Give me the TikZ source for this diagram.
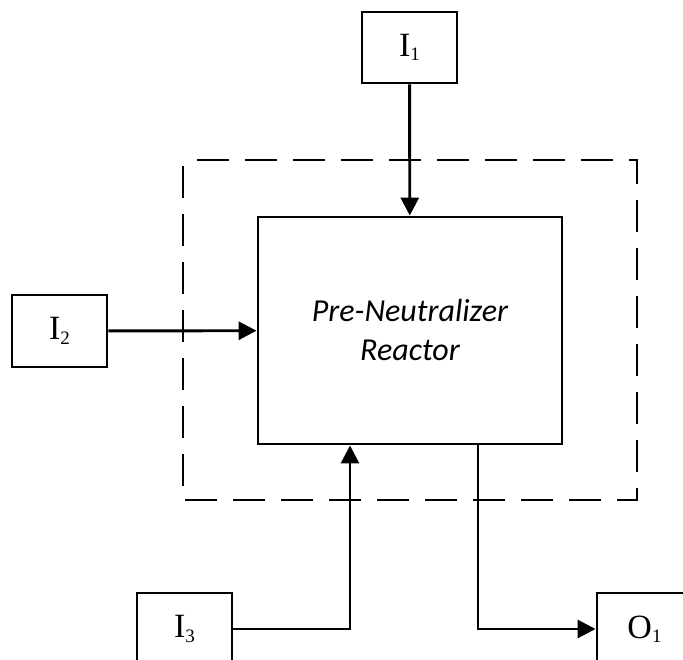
\documentclass[tikz,border=0pt]{standalone}
\usepackage{fontspec}
\setmainfont{Liberation Serif}
\newfontfamily\calibrifont{Carlito}
\usepackage{tikz}
\usetikzlibrary{arrows.meta,positioning,calc}
\newcommand{\flowlabel}[2]{#1\raisebox{-4.5pt}{\fontsize{19}{19}\selectfont #2}}

\begin{document}
\begin{tikzpicture}[x=1pt,y=-1pt,
    box/.style={draw,line width=2.9pt,minimum width=95pt,minimum height=71pt,
      inner sep=0pt,font=\fontsize{34}{36}\selectfont},
    flow/.style={line width=2.9pt,-{Triangle[length=18pt,width=18pt]}}]
      \clip (0,0) rectangle (683,659);
      \draw[line width=2.9pt,dash pattern=on 32pt off 16pt,dash phase=34pt]
        (183,160) -- (637,160) -- (637,500) -- (183,500) -- cycle;
      \node[draw,line width=2.9pt,minimum width=304pt,minimum height=227pt,
        align=center,font=\calibrifont\itshape\fontsize{32}{39}\selectfont]
        (reactor) at (410,330.5) {Pre-Neutralizer\\Reactor};
      \node[box] (in1) at (409.5,47.5) {\flowlabel{I}{1}};
      \node[box,minimum height=72pt] (in2) at (59.5,331) {\flowlabel{I}{2}};
      \node[box,minimum height=72pt] (in3) at (184.5,629) {\flowlabel{I}{3}};
      \node[box,minimum height=72pt] (out1) at (644.5,629) {\flowlabel{O}{1}};
      \draw[flow] (in1) -- (reactor);
      \draw[flow] (in2) -- (reactor);
      \draw[flow] (in3.east) -| ($(reactor.south)+(-60,0)$);
      \draw[flow] ($(reactor.south)+(68,0)$) |- (out1.west);
    \end{tikzpicture}
\end{document}
